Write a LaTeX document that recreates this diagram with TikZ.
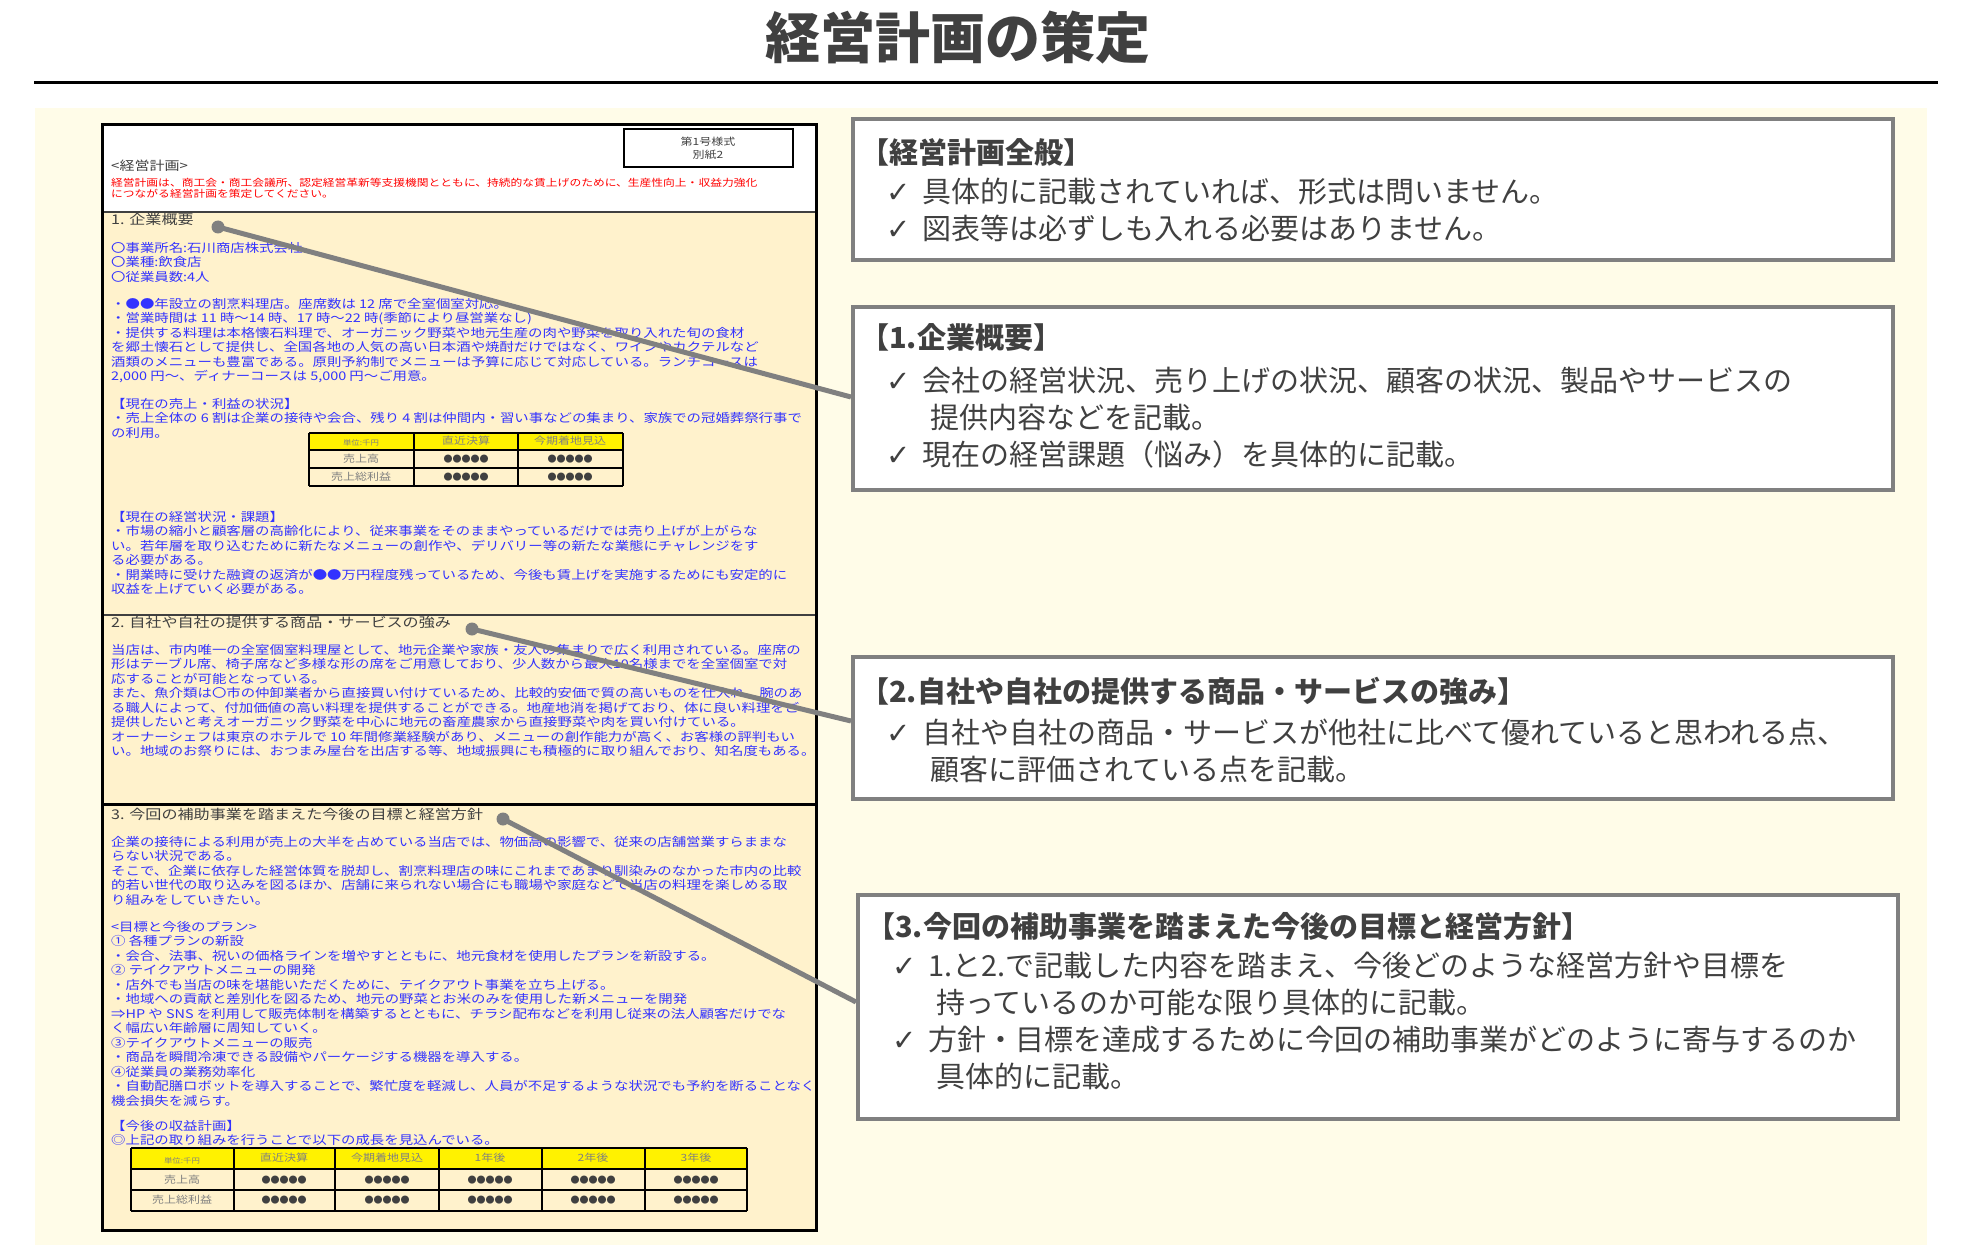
\documentclass[tikz,border=0pt]{standalone}
\usepackage{fontspec}
\setmainfont{Noto Sans CJK JP}
\newfontfamily\docfont[FakeStretch=1.2]{Noto Sans CJK JP}
\newfontfamily\chkfont{DejaVu Sans}
\usepackage{tikz}
\usetikzlibrary{positioning, calc}
\definecolor{bgyellow}{RGB}{255,252,232}
\definecolor{secfill}{RGB}{255,242,204}
\definecolor{docblue}{RGB}{51,51,255}
\definecolor{darktext}{RGB}{64,64,64}
\definecolor{linegray}{RGB}{128,128,128}
\tikzstyle{infobox} = [draw=linegray, line width=4pt, fill=white, anchor=north west, inner sep=0pt]
\tikzstyle{infotext} = [anchor=north west, inner sep=0pt, align=left, text=darktext, font=\fontsize{29}{37}\selectfont]
\tikzstyle{doctext} = [anchor=north west, inner sep=0pt, align=left, text=docblue, font=\docfont\fontsize{12}{14.5}\selectfont]
\tikzstyle{sectitle} = [anchor=north west, inner sep=0pt, text=darktext, font=\docfont\fontsize{13.4}{15}\selectfont]
\tikzstyle{pointer} = [line width=5pt, linegray]
\tikzstyle{dot} = [circle, fill=linegray, inner sep=0pt, minimum size=13pt]
\tikzstyle{tbl} = [font=\docfont\fontsize{10}{12}\selectfont, text=linegray]
\newcommand{\chk}{\hspace*{26pt}\makebox[36pt][l]{{\chkfont\bfseries ✓}}}
\newcommand{\cont}{\hspace*{70pt}}

\begin{document}
\begin{tikzpicture}[x=1pt, y=-1pt]
            \useasboundingbox (0,0) rectangle (1965,1252);
            \fill[white] (0,0) rectangle (1965,1252);
            \node[font=\bfseries\fontsize{55}{60}\selectfont, text=darktext] (title) at (958,38) {経営計画の策定};
            \draw[line width=3pt] (34,83) -- (1938,83);
            \fill[bgyellow] (35,108) rectangle (1927,1245);

            % form sheet
            \fill[white] (102,125) rectangle (816,212);
            \fill[secfill] (102,212) rectangle (816,1230);
            \draw[line width=1.5pt, darktext] (102,212) -- (816,212);
            \draw[line width=1.5pt, darktext] (102,615) -- (816,615);
            \draw[line width=3pt] (102,804) -- (816,804);
            \draw[line width=3pt] (102,125) rectangle (816,1230);
            \draw[line width=1.2pt] (624,129) rectangle (793,167);
            \node[font=\docfont\fontsize{10}{13}\selectfont, align=center, text=darktext] (form) at (708,148) {第1号様式\\別紙2};
            \node[anchor=west, inner sep=0pt, text=darktext, font=\docfont\fontsize{12.5}{14}\selectfont] (heading) at (111,166) {<経営計画>};
            \node[doctext, text=red, font=\docfont\fontsize{9.8}{11}\selectfont] (notice) at (111,178) {経営計画は、商工会・商工会議所、認定経営革新等支援機関とともに、持続的な賃上げのために、生産性向上・収益力強化\\につながる経営計画を策定してください。};

            % section 1
            \node[sectitle] (sec1) at (111,213) {1. 企業概要};
            \node[doctext] (s1a) at (111,242) {〇事業所名:石川商店株式会社\\〇業種:飲食店\\〇従業員数:4人};
            \node[doctext] (s1b) at (111,298) {・●●年設立の割烹料理店。座席数は 12 席で全室個室対応。\\・営業時間は 11 時～14 時、17 時～22 時(季節により昼営業なし)\\・提供する料理は本格懐石料理で、オーガニック野菜や地元生産の肉や野菜を取り入れた旬の食材\\を郷土懐石として提供し、全国各地の人気の高い日本酒や焼酎だけではなく、ワインやカクテルなど\\酒類のメニューも豊富である。原則予約制でメニューは予算に応じて対応している。ランチコースは\\2,000 円～、ディナーコースは 5,000 円～ご用意。};
            \node[doctext] (s1c) at (111,398) {【現在の売上・利益の状況】\\・売上全体の 6 割は企業の接待や会合、残り 4 割は仲間内・習い事などの集まり、家族での冠婚葬祭行事で\\の利用。};
            \fill[yellow] (309,433) rectangle (623,450);
            \foreach \y in {433,450,468,486} \draw[line width=1.2pt] (309,\y) -- (623,\y);
            \foreach \x in {309,414,518,623} \draw[line width=1.2pt] (\x,433) -- (\x,486);
            \node[tbl, font=\docfont\fontsize{7}{8}\selectfont] (t1unit) at (361,443) {単位:千円};
            \node[tbl] (t1h1) at (466,441) {直近決算};
            \node[tbl] (t1h2) at (570,441) {今期着地見込};
            \node[tbl] (t1r1) at (361,459) {売上高};
            \node[tbl] (t1r2) at (361,477) {売上総利益};
            \foreach \x in {466,570} \foreach \y in {459,477}
              \node[tbl, text=darktext, font=\fontsize{9}{10}\selectfont] at (\x,\y) {●●●●●};
            \node[doctext] (s1d) at (111,511) {【現在の経営状況・課題】\\・市場の縮小と顧客層の高齢化により、従来事業をそのままやっているだけでは売り上げが上がらな\\い。若年層を取り込むために新たなメニューの創作や、デリバリー等の新たな業態にチャレンジをす\\る必要がある。\\・開業時に受けた融資の返済が●●万円程度残っているため、今後も賃上げを実施するためにも安定的に\\収益を上げていく必要がある。};

            % section 2
            \node[sectitle] (sec2) at (111,616) {2. 自社や自社の提供する商品・サービスの強み};
            \node[doctext] (s2a) at (111,644) {当店は、市内唯一の全室個室料理屋として、地元企業や家族・友人の集まりで広く利用されている。座席の\\形はテーブル席、椅子席など多様な形の席をご用意しており、少人数から最大10名様までを全室個室で対\\応することが可能となっている。\\また、魚介類は〇市の仲卸業者から直接買い付けているため、比較的安価で質の高いものを仕入れ、腕のあ\\る職人によって、付加価値の高い料理を提供することができる。地産地消を掲げており、体に良い料理をご\\提供したいと考えオーガニック野菜を中心に地元の畜産農家から直接野菜や肉を買い付けている。\\オーナーシェフは東京のホテルで 10 年間修業経験があり、メニューの創作能力が高く、お客様の評判もい\\い。地域のお祭りには、おつまみ屋台を出店する等、地域振興にも積極的に取り組んでおり、知名度もある。};

            % section 3
            \node[sectitle] (sec3) at (111,808) {3. 今回の補助事業を踏まえた今後の目標と経営方針};
            \node[doctext] (s3a) at (111,836) {企業の接待による利用が売上の大半を占めている当店では、物価高の影響で、従来の店舗営業すらままな\\らない状況である。\\そこで、企業に依存した経営体質を脱却し、割烹料理店の味にこれまであまり馴染みのなかった市内の比較\\的若い世代の取り込みを図るほか、店舗に来られない場合にも職場や家庭などで当店の料理を楽しめる取\\り組みをしていきたい。};
            \node[doctext] (s3b) at (111,921) {<目標と今後のプラン>\\① 各種プランの新設\\・会合、法事、祝いの価格ラインを増やすとともに、地元食材を使用したプランを新設する。\\② テイクアウトメニューの開発\\・店外でも当店の味を堪能いただくために、テイクアウト事業を立ち上げる。\\・地域への貢献と差別化を図るため、地元の野菜とお米のみを使用した新メニューを開発\\⇒HP や SNS を利用して販売体制を構築するとともに、チラシ配布などを利用し従来の法人顧客だけでな\\く幅広い年齢層に周知していく。\\③テイクアウトメニューの販売\\・商品を瞬間冷凍できる設備やパーケージする機器を導入する。\\④従業員の業務効率化\\・自動配膳ロボットを導入することで、繁忙度を軽減し、人員が不足するような状況でも予約を断ることなく\\機会損失を減らす。};
            \node[doctext] (s3c) at (111,1120) {【今後の収益計画】\\◎上記の取り組みを行うことで以下の成長を見込んでいる。};
            \fill[yellow] (131,1148) rectangle (747,1169);
            \foreach \y in {1148,1169,1190,1211} \draw[line width=1.2pt] (131,\y) -- (747,\y);
            \foreach \x in {131,234,335,439,542,645,747} \draw[line width=1.2pt] (\x,1148) -- (\x,1211);
            \node[tbl, font=\docfont\fontsize{7}{8}\selectfont] (t2unit) at (182,1161) {単位:千円};
            \foreach \x/\lab in {284/直近決算, 387/今期着地見込, 490/1年後, 593/2年後, 696/3年後} {
              \node[tbl] at (\x,1158) {\lab};
              \node[tbl, text=darktext, font=\fontsize{9}{10}\selectfont] at (\x,1180) {●●●●●};
              \node[tbl, text=darktext, font=\fontsize{9}{10}\selectfont] at (\x,1200) {●●●●●};
            }
            \node[tbl] (t2r1) at (182,1180) {売上高};
            \node[tbl] (t2r2) at (182,1200) {売上総利益};

            % explanation boxes
            \node[infobox, minimum width=1040pt, minimum height=141pt] (boxA) at (851,117) {};
            \node[infobox, minimum width=1040pt, minimum height=183pt] (boxB) at (851,305) {};
            \node[infobox, minimum width=1040pt, minimum height=142pt] (boxC) at (851,655) {};
            \node[infobox, minimum width=1040pt, minimum height=224pt] (boxD) at (856,893) {};
            \node[infotext] (txtA) at (860,138) {\textbf{【経営計画全般】}\\[2pt] \chk 具体的に記載されていれば、形式は問いません。\\ \chk 図表等は必ずしも入れる必要はありません。};
            \node[infotext] (txtB) at (860,323) {\textbf{【1.企業概要】}\\[6pt] \chk 会社の経営状況、売り上げの状況、顧客の状況、製品やサービスの\\ \cont 提供内容などを記載。\\ \chk 現在の経営課題（悩み）を具体的に記載。};
            \node[infotext] (txtC) at (860,677) {\textbf{【2.自社や自社の提供する商品・サービスの強み】}\\[4pt] \chk 自社や自社の商品・サービスが他社に比べて優れていると思われる点、\\ \cont 顧客に評価されている点を記載。};
            \node[infotext] (txtD) at (866,912) {\textbf{【3.今回の補助事業を踏まえた今後の目標と経営方針】}\\[2pt] \chk 1.と2.で記載した内容を踏まえ、今後どのような経営方針や目標を\\ \cont 持っているのか可能な限り具体的に記載。\\ \chk 方針・目標を達成するために今回の補助事業がどのように寄与するのか\\ \cont 具体的に記載。};

            % pointers
            \node[dot] (dot1) at (218,227) {};
            \node[dot] (dot2) at (472,629) {};
            \node[dot] (dot3) at (503,819) {};
            \coordinate (endB) at (851,397);
            \coordinate (endC) at (851,721);
            \coordinate (endD) at (856,1002);
            \draw[pointer] (dot1.center) -- (endB);
            \draw[pointer] (dot2.center) -- (endC);
            \draw[pointer] (dot3.center) -- (endD);
\end{tikzpicture}
\end{document}
